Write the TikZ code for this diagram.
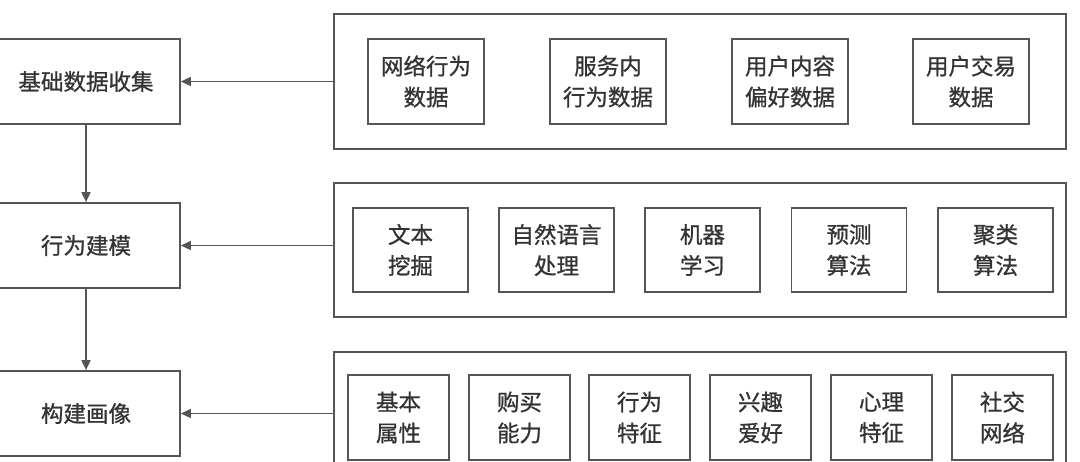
\documentclass[tikz,border=0pt]{standalone}
\usepackage{fontspec}
\setmainfont{Noto Sans CJK SC}[FakeBold=0.9]
\usetikzlibrary{arrows.meta}
\definecolor{linec}{HTML}{555555}
\definecolor{textc}{HTML}{333333}
\tikzset{
  box/.style={draw=linec, line width=1.7pt, inner sep=0pt, text=textc,
    font=\fontsize{22.5}{31}\selectfont, align=center},
  mainbox/.style={box, minimum width=188pt, minimum height=85pt},
  frame/.style={draw=linec, line width=1.7pt, inner sep=0pt},
  itemA/.style={box, minimum width=116pt, minimum height=85pt},
  itemB/.style={box, minimum width=115pt, minimum height=84pt},
  itemC/.style={box, minimum width=101pt, minimum height=85pt},
  conn/.style={draw=linec, line width=1.7pt, -{Triangle[length=10pt,width=9pt]}}
}
\begin{document}
\begin{tikzpicture}[x=1pt,y=-1pt]
\useasboundingbox (0,0) rectangle (1080,461);
\clip (0,0) rectangle (1080,461);
% left column
\node[mainbox] (b1) at (86,81.5) {基础数据收集};
\node[mainbox] (b2) at (86,245.5) {行为建模};
\node[mainbox] (b3) at (86,413.5) {构建画像};
% containers
\node[frame, minimum width=732pt, minimum height=135pt] (c1) at (700,81.5) {};
\node[frame, minimum width=732pt, minimum height=134pt] (c2) at (700,250) {};
\node[frame, minimum width=732pt, minimum height=140pt, anchor=north] (c3) at (700,351) {};
% row 1
\node[itemA] (a1) at (426,81.5) {网络行为\\数据};
\node[itemA] (a2) at (608,81.5) {服务内\\行为数据};
\node[itemA] (a3) at (790,81.5) {用户内容\\偏好数据};
\node[itemA] (a4) at (971,81.5) {用户交易\\数据};
% row 2
\node[itemB] (m1) at (410.5,250) {文本\\挖掘};
\node[itemB] (m2) at (556.5,250) {自然语言\\处理};
\node[itemB] (m3) at (702.5,250) {机器\\学习};
\node[itemB] (m4) at (849,250) {预测\\算法};
\node[itemB] (m5) at (995.5,250) {聚类\\算法};
% row 3
\node[itemC] (p1) at (398.5,417.5) {基本\\属性};
\node[itemC] (p2) at (519.5,417.5) {购买\\能力};
\node[itemC] (p3) at (639.5,417.5) {行为\\特征};
\node[itemC] (p4) at (760.5,417.5) {兴趣\\爱好};
\node[itemC] (p5) at (881.5,417.5) {心理\\特征};
\node[itemC] (p6) at (1002.5,417.5) {社交\\网络};
% connectors
\draw[conn] (b1.south) -- (b2.north);
\draw[conn] (b2.south) -- (b3.north);
\draw[conn] (c1.west |- b1.east) -- (b1.east);
\draw[conn] (c2.west |- b2.east) -- (b2.east);
\draw[conn] (c3.west |- b3.east) -- (b3.east);
\end{tikzpicture}
\end{document}
